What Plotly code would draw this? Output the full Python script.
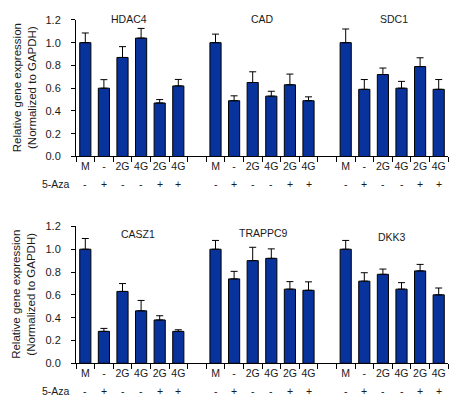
import plotly.graph_objects as go

# ---------------- data ----------------
conditions = ["M", "-", "2G", "4G", "2G", "4G"]
aza_labels = ["-", "+", "-", "-", "+", "+"]

top_genes = ["HDAC4", "CAD", "SDC1"]
bottom_genes = ["CASZ1", "TRAPPC9", "DKK3"]

hdac4 = [1.00, 0.60, 0.87, 1.04, 0.47, 0.62]
hdac4_err = [0.085, 0.075, 0.095, 0.085, 0.030, 0.057]
cad = [1.00, 0.49, 0.65, 0.53, 0.63, 0.49]
cad_err = [0.075, 0.043, 0.094, 0.043, 0.094, 0.034]
sdc1 = [1.00, 0.59, 0.72, 0.60, 0.79, 0.59]
sdc1_err = [0.120, 0.086, 0.057, 0.060, 0.077, 0.086]

casz1 = [1.00, 0.28, 0.63, 0.46, 0.38, 0.28]
casz1_err = [0.094, 0.026, 0.069, 0.091, 0.037, 0.014]
trappc9 = [1.00, 0.74, 0.90, 0.92, 0.65, 0.64]
trappc9_err = [0.077, 0.066, 0.117, 0.083, 0.066, 0.074]
dkk3 = [1.00, 0.72, 0.78, 0.65, 0.81, 0.60]
dkk3_err = [0.077, 0.074, 0.046, 0.057, 0.057, 0.060]

y_ticks = [0.0, 0.2, 0.4, 0.6, 0.8, 1.0, 1.2]

# ---------------- styling ----------------
FONT = "Liberation Sans, Arial, sans-serif"
TXT = "#1a1a1a"
BAR = "#08339c"
W, H = 466, 413
FS = 10.5

panels = [
    dict(genes=top_genes, values=[hdac4, cad, sdc1], errs=[hdac4_err, cad_err, sdc1_err],
         xa="x", ya="y", dom=[1 - 155 / H, 1 - 14.3 / H],
         title_y=[1.008, 1.008, 1.008], title_dx=[-3, 0, 2]),
    dict(genes=bottom_genes, values=[casz1, trappc9, dkk3], errs=[casz1_err, trappc9_err, dkk3_err],
         xa="x2", ya="y2", dom=[1 - 368 / H, 1 - 227 / H],
         title_y=[0.944, 0.951, 0.923], title_dx=[6, 1, 0]),
]

fig = go.Figure()
annotations = []

for p in panels:
    cats, labels, xs, ys, es = [], [], [], [], []
    for gi, g in enumerate(p["genes"]):
        if gi > 0:
            cats.append(f"gap{gi}")
            labels.append("")
        for ci, c in enumerate(conditions):
            cid = f"{g}|{ci}"
            cats.append(cid)
            labels.append(c)
            xs.append(cid)
            ys.append(p["values"][gi][ci])
            es.append(p["errs"][gi][ci])
            annotations.append(dict(x=cid, y=0, xref=p["xa"], yref=p["ya"] + " domain",
                                    text=aza_labels[ci], showarrow=False,
                                    xanchor="center", yanchor="middle",
                                    yshift=-28, font=dict(family=FONT, size=FS, color=TXT)))
        annotations.append(dict(x=gi * 7 + 2.5, y=p["title_y"][gi], xref=p["xa"],
                                yref=p["ya"] + " domain", xanchor="center", yanchor="middle",
                                text=g, showarrow=False, xshift=p["title_dx"][gi],
                                font=dict(family=FONT, size=FS, color=TXT)))
    fig.add_trace(go.Bar(
        x=xs, y=ys, xaxis=p["xa"], yaxis=p["ya"],
        marker=dict(color=BAR, line=dict(color="black", width=1)),
        width=0.6,
        error_y=dict(type="data", symmetric=False, array=es, arrayminus=[0] * len(es),
                     color="black", thickness=1, width=3.5),
        showlegend=False, hoverinfo="skip",
    ))
    annotations.append(dict(x=72 / W, y=0, xref="paper", yref=p["ya"] + " domain",
                            text="5-Aza", showarrow=False, xanchor="right", yanchor="middle",
                            yshift=-28, font=dict(family=FONT, size=FS, color=TXT)))
    annotations.append(dict(x=24 / W, y=0.5, xref="paper", yref=p["ya"] + " domain",
                            text="Relative gene expression<br>(Normalized to GAPDH)",
                            textangle=-90, showarrow=False, xanchor="center", yanchor="middle",
                            font=dict(family=FONT, size=11.5, color=TXT)))

    ax_key = "xaxis" if p["xa"] == "x" else "xaxis2"
    ay_key = "yaxis" if p["ya"] == "y" else "yaxis2"
    fig.update_layout(**{
        ax_key: dict(domain=[76 / W, 448 / W], anchor=p["ya"], type="category",
                     categoryorder="array", categoryarray=cats,
                     tickmode="array", tickvals=cats, ticktext=labels, tickangle=0,
                     tickson="boundaries", ticks="outside", ticklen=5, tickcolor="black",
                     showline=True, linecolor="black", linewidth=1, showgrid=False,
                     range=[-0.5, len(cats) - 0.5], fixedrange=True,
                     tickfont=dict(family=FONT, size=FS, color=TXT)),
        ay_key: dict(domain=p["dom"], anchor=p["xa"], range=[0, 1.2],
                     tickmode="array", tickvals=y_ticks, tickformat=".1f",
                     ticks="outside", ticklen=4, tickcolor="black",
                     showline=True, linecolor="black", linewidth=1,
                     showgrid=False, zeroline=False, ticklabelstandoff=8,
                     fixedrange=True,
                     tickfont=dict(family=FONT, size=11, color=TXT)),
    })

fig.update_layout(
    width=W, height=H,
    margin=dict(l=0, r=0, t=0, b=0),
    paper_bgcolor="white", plot_bgcolor="white",
    bargap=0.4,
    annotations=annotations,
)

fig.write_html("out.html", config={"displayModeBar": False},
               post_script="document.body.style.margin='0px';")
